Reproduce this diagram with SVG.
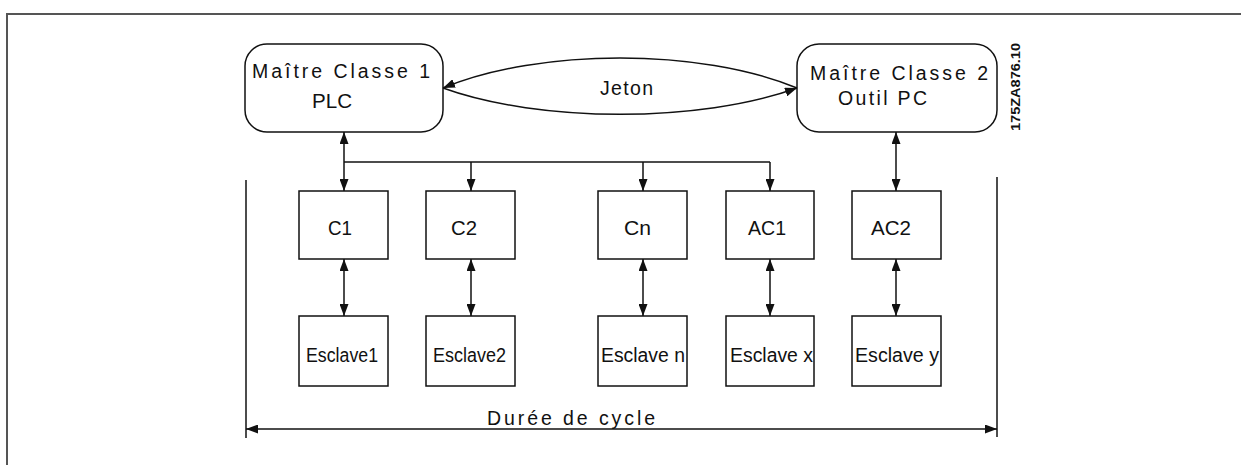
<svg xmlns="http://www.w3.org/2000/svg" width="1241" height="465" viewBox="0 0 1241 465">
<style>
.box{fill:#fff;stroke:#111;stroke-width:1.5}
.ln{fill:none;stroke:#111;stroke-width:1.5}
.t{font-family:"Liberation Sans",Arial,sans-serif;font-size:19.5px;fill:#111}
.e{font-family:"Liberation Sans",Arial,sans-serif;font-size:20px;fill:#111}
</style>
<defs>
<marker id="ah" viewBox="0 0 12 9" refX="12" refY="4.5" markerWidth="12" markerHeight="9" markerUnits="userSpaceOnUse" orient="auto-start-reverse">
<path d="M0,0 L12,4.5 L0,9 Z" fill="#111"/>
</marker>
</defs>
<rect width="1241" height="465" fill="#fff"/>
<path d="M7,466 V14 H1242" fill="none" stroke="#555" stroke-width="2"/>

<g id="master1">
<rect class="box" x="245" y="44" width="198" height="88" rx="22" ry="22"/>
<text class="t" x="252" y="78" textLength="178" lengthAdjust="spacing">Maître Classe 1</text>
<text class="t" x="312" y="108" textLength="40" lengthAdjust="spacingAndGlyphs">PLC</text>
</g>
<g id="master2">
<rect class="box" x="797" y="44" width="200" height="88" rx="22" ry="22"/>
<text class="t" x="810" y="80" textLength="178" lengthAdjust="spacing">Maître Classe 2</text>
<text class="t" x="838" y="105" textLength="89" lengthAdjust="spacing">Outil PC</text>
</g>

<g id="c1"><rect class="box" x="299" y="191" width="89" height="68"/><text class="t" x="328" y="235" textLength="24" lengthAdjust="spacingAndGlyphs">C1</text></g>
<g id="c2"><rect class="box" x="426" y="191" width="89" height="68"/><text class="t" x="451" y="235" textLength="26" lengthAdjust="spacingAndGlyphs">C2</text></g>
<g id="cn"><rect class="box" x="598" y="191" width="89" height="68"/><text class="t" x="624" y="235" textLength="27" lengthAdjust="spacingAndGlyphs">Cn</text></g>
<g id="ac1"><rect class="box" x="726" y="191" width="88" height="68"/><text class="t" x="748" y="235" textLength="38" lengthAdjust="spacingAndGlyphs">AC1</text></g>
<g id="ac2"><rect class="box" x="852" y="191" width="89" height="68"/><text class="t" x="871" y="235" textLength="40" lengthAdjust="spacingAndGlyphs">AC2</text></g>

<g id="esclave1"><rect class="box" x="299" y="316" width="89" height="70"/><text class="e" x="306" y="362" textLength="72" lengthAdjust="spacingAndGlyphs">Esclave1</text></g>
<g id="esclave2"><rect class="box" x="426" y="316" width="89" height="70"/><text class="e" x="433" y="362" textLength="73" lengthAdjust="spacingAndGlyphs">Esclave2</text></g>
<g id="esclaven"><rect class="box" x="598" y="316" width="89" height="70"/><text class="e" x="601" y="362" textLength="84" lengthAdjust="spacingAndGlyphs">Esclave n</text></g>
<g id="esclavex"><rect class="box" x="726" y="316" width="88" height="70"/><text class="e" x="730" y="362" textLength="83" lengthAdjust="spacingAndGlyphs">Esclave x</text></g>
<g id="esclavey"><rect class="box" x="852" y="316" width="89" height="70"/><text class="e" x="855" y="362" textLength="84" lengthAdjust="spacingAndGlyphs">Esclave y</text></g>

<g id="connectors">
<path class="ln" d="M797,88 C700,48 540,48 443,88" marker-end="url(#ah)"/>
<path class="ln" d="M443,88 C540,123 700,123 797,88" marker-end="url(#ah)"/>
<text class="t" x="600" y="95" textLength="53" lengthAdjust="spacing">Jeton</text>

<path class="ln" d="M344,162 V132" marker-end="url(#ah)"/>
<path class="ln" d="M344,162 H770"/>
<path class="ln" d="M344,162 V191" marker-end="url(#ah)"/>
<path class="ln" d="M471,162 V191" marker-end="url(#ah)"/>
<path class="ln" d="M643,162 V191" marker-end="url(#ah)"/>
<path class="ln" d="M770,162 V191" marker-end="url(#ah)"/>
<path class="ln" d="M896,132 V191" marker-start="url(#ah)" marker-end="url(#ah)"/>

<path class="ln" d="M344,259 V316" marker-start="url(#ah)" marker-end="url(#ah)"/>
<path class="ln" d="M471,259 V316" marker-start="url(#ah)" marker-end="url(#ah)"/>
<path class="ln" d="M643,259 V316" marker-start="url(#ah)" marker-end="url(#ah)"/>
<path class="ln" d="M770,259 V316" marker-start="url(#ah)" marker-end="url(#ah)"/>
<path class="ln" d="M896,259 V316" marker-start="url(#ah)" marker-end="url(#ah)"/>

<path class="ln" d="M246,180 V438"/>
<path class="ln" d="M997,177 V437"/>
<path class="ln" d="M246,429 H997" marker-start="url(#ah)" marker-end="url(#ah)"/>
<text class="t" x="487" y="425" textLength="168" lengthAdjust="spacing">Durée de cycle</text>
</g>
<text transform="translate(1020,131) rotate(-90)" font-family="Liberation Sans,Arial,sans-serif" font-size="13" font-weight="bold" fill="#111" textLength="88" lengthAdjust="spacingAndGlyphs">175ZA876.10</text>
</svg>
